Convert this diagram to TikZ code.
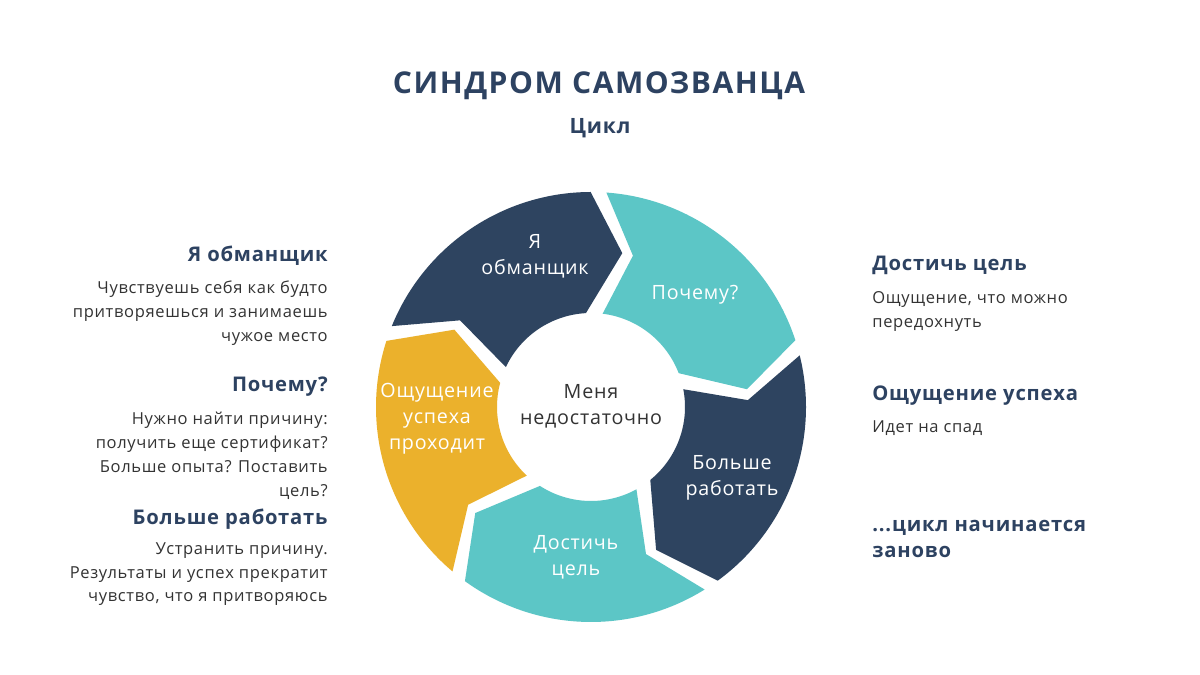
\documentclass[tikz,border=0pt]{standalone}
\usepackage{fontspec}
\setmainfont{Open Sans}
\newfontfamily\spaced[LetterSpace=4]{Open Sans}
\newfontfamily\wide[LetterSpace=5]{Open Sans}
\definecolor{segnavy}{HTML}{2E4460}
\definecolor{segteal}{HTML}{5CC6C6}
\definecolor{segyellow}{HTML}{EBB12C}
\definecolor{headcol}{HTML}{2D4261}
\definecolor{bodycol}{HTML}{333333}
\tikzset{
  heading/.style={font=\spaced\bfseries\fontsize{11.5}{14.7}\selectfont, text=headcol, inner sep=0pt},
  bodytext/.style={font=\spaced\fontsize{9.4}{13.6}\selectfont, text=bodycol, inner sep=0pt},
  leftblock/.style={anchor=north east, align=right},
  rightblock/.style={anchor=north west, align=left},
  ringlabel/.style={font=\spaced\fontsize{11.2}{14.7}\selectfont, text=white, align=center, inner sep=0pt},
}
\begin{document}
\begin{tikzpicture}[x=0.02cm,y=0.02cm]
\useasboundingbox (0,0) rectangle (1200,675);
\fill[white] (0,0) rectangle (1200,675);
\coordinate (ctr) at (591,268);
% ring segments: start boundary angle / colour, each spans 72 degrees clockwise
\begin{scope}[shift={(ctr)}]
\foreach \a/\c in {160/segnavy, 88/segteal, 16/segnavy, -56/segteal, -128/segyellow}{
  \fill[\c] ({\a-2.1}:215) arc[start angle={\a-2.1}, end angle={\a-72+2.1}, radius=215]
    -- ({\a-72-11.5+2}:157) -- ({\a-72+5.1}:94)
    arc[start angle={\a-72+5.1}, end angle={\a-5.1}, radius=94]
    -- ({\a-11.5-2}:157) -- cycle;
}
\end{scope}
% ring labels
\node[ringlabel, text=bodycol] (core) at (591,269) {Меня\\недостаточно};
\node[ringlabel] (lbl1) at (535,419) {Я\\обманщик};
\node[ringlabel] (lbl2) at (695,380) {Почему?};
\node[ringlabel] (lbl3) at (732,197) {Больше\\работать};
\node[ringlabel] (lbl4) at (576,118) {Достичь\\цель};
\node[ringlabel] (lbl5) at (437,256) {Ощущение\\успеха\\проходит};
% title
\node[font=\wide\bfseries\fontsize{17.1}{20}\selectfont, text=headcol] (title) at (599,589) {СИНДРОМ САМОЗВАНЦА};
\node[font=\spaced\bfseries\fontsize{12}{14}\selectfont, text=headcol] (sub) at (600,547) {Цикл};
% left column
\node[heading, anchor=north east] (h1) at (328,429) {Я обманщик};
\node[bodytext, leftblock] (b1) at (328,394) {Чувствуешь себя как будто\\притворяешься и занимаешь\\чужое место};
\node[heading, anchor=north east] (h2) at (328,298) {Почему?};
\node[bodytext, leftblock] (b2) at (328,263) {Нужно найти причину:\\получить еще сертификат?\\Больше опыта? Поставить\\цель?};
\node[heading, anchor=north east] (h3) at (328,166) {Больше работать};
\node[bodytext, leftblock] (b3) at (328,133) {Устранить причину.\\Результаты и успех прекратит\\чувство, что я притворяюсь};
% right column
\node[heading, anchor=north west] (h4) at (872,419) {Достичь цель};
\node[bodytext, rightblock] (b4) at (872,384) {Ощущение, что можно\\передохнуть};
\node[heading, anchor=north west] (h5) at (872,289) {Ощущение успеха};
\node[bodytext, rightblock] (b5) at (872,255) {Идет на спад};
\node[heading, rightblock] (h6) at (872,155) {...цикл начинается\\заново};
\end{tikzpicture}
\end{document}
